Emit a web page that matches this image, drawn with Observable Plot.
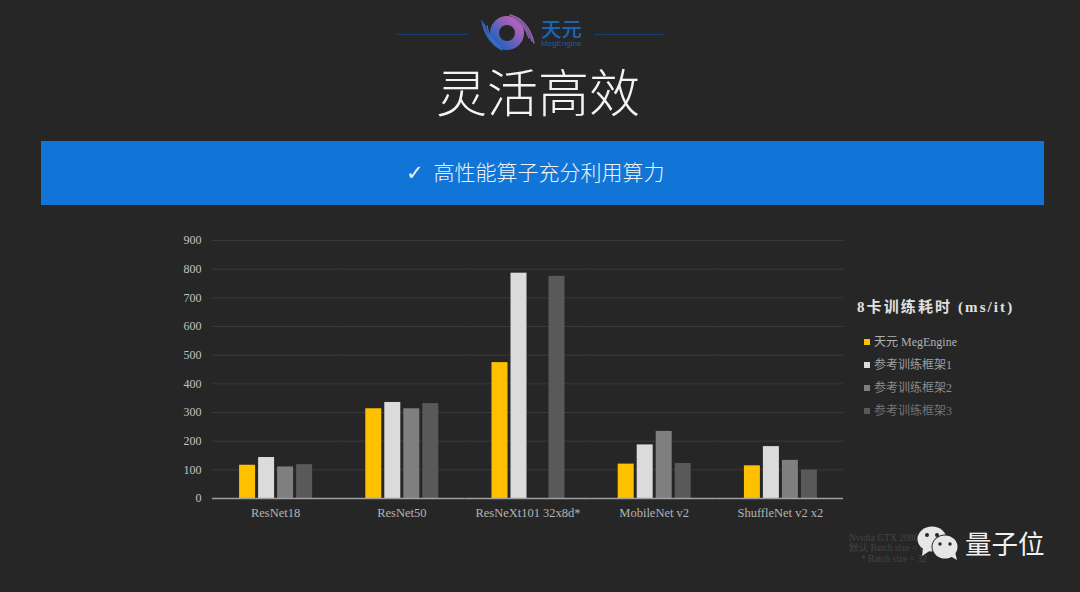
<!DOCTYPE html>
<html lang="zh">
<head>
<meta charset="utf-8">
<script src="https://cdn.jsdelivr.net/npm/d3@7"></script>
<script src="https://cdn.jsdelivr.net/npm/@observablehq/plot@0.6"></script>
<style>
html,body{margin:0;padding:0;background:#262626;overflow:hidden}
#page{position:relative;width:1080px;height:592px;background:#262626;overflow:hidden;font-family:"Liberation Serif","Noto Sans CJK SC",serif}
#page>*{position:absolute}
#chart{left:0;top:225px}
#chart svg{display:block;background:transparent}
.rule{height:1px;background:#17406e;top:34px}
#title{left:338px;width:400px;top:53px;text-align:center;color:#f4f4f4;font:300 51px/74px "Noto Sans CJK SC",sans-serif}
#band{left:41px;top:141px;width:1003px;height:64px;background:#1175d8;color:#f2f2f2;text-align:center;font:300 21px/61px "Noto Sans CJK SC",sans-serif;box-sizing:border-box;padding-right:15px}
#band .chk{margin-right:10px;font-family:"DejaVu Sans"}
#ltitle{left:857px;top:298px;color:#e0e0e0;font:bold 15px/18px "Liberation Serif","Noto Sans CJK SC",serif;letter-spacing:2.1px;white-space:nowrap}
.li{left:864px;font-size:12px;line-height:16px;white-space:nowrap;color:#9a9a9a}
.li i{display:inline-block;width:6px;height:6px;margin-right:4px;vertical-align:1px}
#note{left:849px;top:533px;font-size:9.5px;line-height:10.4px;color:#444;white-space:pre}
#qz{left:965px;top:526px;color:#f0f0f0;font:400 26.5px/34px "Noto Sans CJK SC",sans-serif;white-space:nowrap}
#logoT{left:541px;top:19px;color:#1a64b8;font:500 20.5px/18px "Noto Sans CJK SC",sans-serif}
#logoS{left:541px;top:40px;color:#1a5aa6;font:8px/8px "Liberation Sans",sans-serif}
</style>
</head>
<body>
<div id="page">
  <div class="rule" style="left:397px;width:71px"></div>
  <div class="rule" style="left:594px;width:71px"></div>
  <svg style="left:480px;top:13px" width="58" height="40" viewBox="0 0 58 40">
    <defs><linearGradient id="lg" x1="0" y1="1" x2="1" y2="0"><stop offset="0.15" stop-color="#2f62bc"/><stop offset="0.85" stop-color="#b060b8"/></linearGradient></defs>
    <circle cx="27" cy="20" r="12.5" fill="none" stroke="url(#lg)" stroke-width="9"/>
    <g fill="none" stroke-linecap="round">
      <path d="M2 8C4 20 10 31 22 37" stroke="#3564b8" stroke-width="1.4"/>
      <path d="M4 11C6 21 11 29 20 35" stroke="#3d6cc0" stroke-width="1.4"/>
      <path d="M7 13C8 21 12 28 19 33" stroke="#4270c4" stroke-width="1.4"/>
      <path d="M30 2C42 5 50 14 54 30" stroke="#a060b8" stroke-width="1.4"/>
      <path d="M33 5C42 8 48 16 52 28" stroke="#8c62b8" stroke-width="1.4"/>
      <path d="M36 7C42 10 46 16 49 25" stroke="#7a64b8" stroke-width="1.4"/>
    </g>
  </svg>
  <div id="logoT">天元</div>
  <div id="logoS">MegEngine</div>
  <div id="title">灵活高效</div>
  <div id="band"><span class="chk">✓</span>高性能算子充分利用算力</div>
  <div id="chart"></div>
  <div id="ltitle">8卡训练耗时 (ms/it)</div>
  <div id="legend"></div>
  <div id="note">Nvidia GTX 2080 Ti
默认 Batch size = 64
     * Batch size = 32</div>
  <svg style="left:917px;top:524px" width="44" height="38" viewBox="0 0 44 38">
    <ellipse cx="15" cy="15" rx="14.5" ry="12.5" fill="#e6e6e6"/>
    <path d="M6 24L5 32L14 26Z" fill="#e6e6e6"/>
    <circle cx="10" cy="11" r="2" fill="#262626"/><circle cx="20" cy="11" r="2" fill="#262626"/>
    <ellipse cx="28" cy="23" rx="13.5" ry="12.5" fill="#262626"/>
    <ellipse cx="28" cy="23" rx="12.5" ry="11.5" fill="#e6e6e6"/>
    <path d="M33 32L40 36L38 28Z" fill="#e6e6e6"/>
    <circle cx="23" cy="20" r="1.7" fill="#262626"/><circle cx="33" cy="20" r="1.7" fill="#262626"/>
  </svg>
  <div id="qz">量子位</div>
</div>
<script>
const models = ["ResNet18", "ResNet50", "ResNeXt101 32x8d*", "MobileNet v2", "ShuffleNet v2 x2"];
const frameworks = ["天元 MegEngine", "参考训练框架1", "参考训练框架2", "参考训练框架3"];
const colors = ["#ffc000", "#dbdbdb", "#7f7f7f", "#595959"];
const megEngine = [116, 313, 474, 120, 114];
const framework1 = [143, 335, 786, 187, 181];
const framework2 = [110, 313, null, 234, 133];
const framework3 = [118, 331, 775, 122, 99];
const yTicks = [0, 100, 200, 300, 400, 500, 600, 700, 800, 900];
const seriesValues = [megEngine, framework1, framework2, framework3];

const rows = frameworks.flatMap((f, i) =>
  models.map((m, j) => ({model: m, framework: f, value: seriesValues[i][j]}))
).filter(d => d.value != null);

const plot = Plot.plot({
  width: 1080,
  height: 300,
  marginLeft: 212,
  marginRight: 237,
  marginTop: 15,
  marginBottom: 27,
  style: {background: "transparent", fontFamily: "'Liberation Serif', serif"},
  fx: {domain: models, padding: 0, round: false, label: null, axis: null},
  x: {domain: frameworks, axis: null, paddingInner: 0.158, paddingOuter: 1.4, round: false},
  y: {domain: [0, 900], ticks: yTicks, label: null, axis: null},
  color: {domain: frameworks, range: colors},
  marks: [
    Plot.ruleY(yTicks.slice(1), {stroke: "#3a3a3a", strokeWidth: 1, facet: null}),
    Plot.barY(rows, {fx: "model", x: "framework", y: "value", fill: "framework", dx: 0.5}),
    Plot.ruleY([0], {stroke: "#a0a0a0", strokeWidth: 1.5, facet: null}),
    Plot.axisY({ticks: yTicks, tickSize: 0, tickPadding: 11, label: null, fill: "#c4c4c4", fontSize: 12}),
    Plot.axisFx({domain: models, anchor: "bottom", tickSize: 0, tickPadding: 10, label: null, fill: "#b4b4b4", fontSize: 12.5})
  ]
});
document.getElementById("chart").appendChild(plot);

const tops = [334, 357, 380, 403];
const legend = document.getElementById("legend");
legend.style.cssText = "left:0;top:0";
frameworks.forEach((f, i) => {
  const row = document.createElement("div");
  row.className = "li";
  row.style.cssText = "position:absolute;top:" + tops[i] + "px;color:" + ["#b0b0b0", "#a0a0a0", "#8a8a8a", "#747474"][i];
  const sw = document.createElement("i");
  sw.style.background = colors[i];
  row.appendChild(sw);
  row.appendChild(document.createTextNode(f));
  legend.appendChild(row);
});
</script>
</body>
</html>
